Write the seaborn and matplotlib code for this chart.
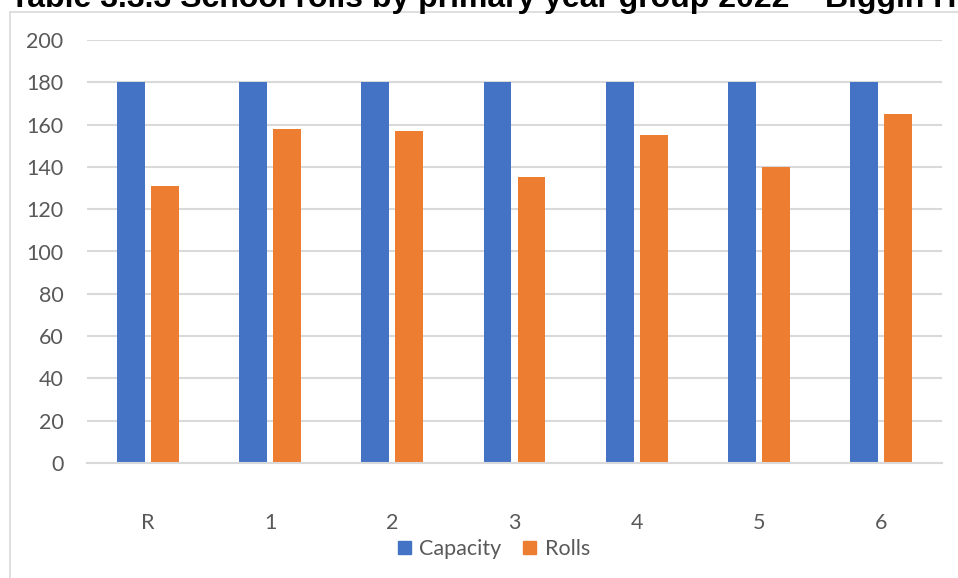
import matplotlib
matplotlib.use("Agg")
import matplotlib.pyplot as plt
import seaborn as sns
from matplotlib.patches import Rectangle
from pandas import DataFrame

# Chart data
year_groups = ["R", "1", "2", "3", "4", "5", "6"]
capacity = [180, 180, 180, 180, 180, 180, 180]
rolls = [131, 158, 157, 135, 155, 140, 165]
series_names = ["Capacity", "Rolls"]
series_colors = ["#4472C4", "#ED7D31"]
title = "Table 3.3.3 School rolls by primary year group 2022 \u2013 Biggin Hill"


def main():
    sns.set_style("white")
    plt.rcParams["font.family"] = ["Lato", "DejaVu Sans"]

    # Long format table for seaborn
    df = DataFrame({
        "group": year_groups * 2,
        "value": capacity + rolls,
        "series": [series_names[0]] * len(year_groups) + [series_names[1]] * len(year_groups),
    })

    fig = plt.figure(figsize=(9.58, 5.78), dpi=100)
    ax = fig.add_axes([87 / 958, 115 / 578, 855 / 958, 423 / 578])

    # Outer chart frame
    fig.add_artist(Rectangle((10 / 958, -0.05), 1.1, (578 - 12) / 578 + 0.05,
                             transform=fig.transFigure, fill=False,
                             edgecolor="#d9d9d9", linewidth=1.2))

    sns.barplot(data=df, x="group", y="value", hue="series", order=year_groups,
                hue_order=series_names, palette=series_colors, width=0.557,
                gap=0.18, saturation=1, linewidth=0, ax=ax, legend=False)

    # Axes styling
    ax.set_ylim(0, 200)
    ax.set_xlim(-0.5, len(year_groups) - 0.5)
    ax.set_yticks(range(0, 201, 20))
    ax.yaxis.grid(True, color="#d9d9d9", linewidth=1.5)
    ax.set_axisbelow(True)
    for side in ["top", "right", "left"]:
        ax.spines[side].set_visible(False)
    ax.spines["bottom"].set_color("#d9d9d9")
    ax.spines["bottom"].set_linewidth(1.5)
    ax.tick_params(axis="both", length=0, labelsize=15.5, labelcolor="#595959")
    ax.tick_params(axis="y", pad=17)
    ax.tick_params(axis="x", pad=36)
    ax.set_xlabel("")
    ax.set_ylabel("")

    # Legend with square markers
    handles = [Rectangle((0, 0), 1, 1, color=c) for c in series_colors]
    fig.legend(handles, series_names, loc="center", bbox_to_anchor=(494 / 958, 1 - 549 / 578),
               ncol=2, frameon=False, fontsize=15.5, handlelength=0.6, handleheight=0.6,
               handletextpad=0.4, columnspacing=1.0, labelcolor="#595959")

    # Title, cropped at top of the image like the reference
    fig.text(10 / 958, 1 - 6.5 / 578, title, fontsize=23, fontweight="bold",
             family="Liberation Sans", ha="left", va="baseline", color="black")

    fig.savefig("out.png", dpi=100)


if __name__ == "__main__":
    main()
